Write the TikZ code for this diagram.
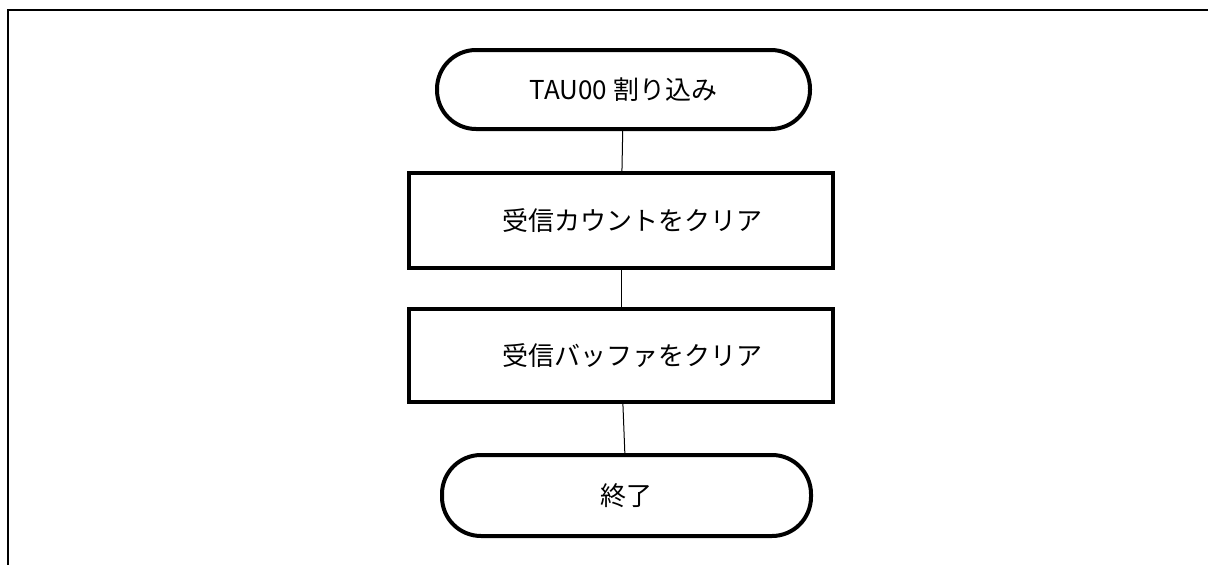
\documentclass[tikz,border=0pt]{standalone}
\usepackage{fontspec}
\setmainfont{Noto Sans CJK JP}
\begin{document}
\begin{tikzpicture}[x=1pt,y=-1pt]
        \tikzstyle{terminal}=[rectangle,rounded corners=39pt,line width=4pt,draw=black,font=\fontsize{26pt}{30pt}\selectfont,inner sep=0pt]
        \tikzstyle{process}=[rectangle,line width=4pt,draw=black,font=\fontsize{26pt}{30pt}\selectfont,inner sep=0pt]
        \tikzstyle{edge}=[draw, line width=1pt]
        \useasboundingbox (0,0) rectangle (1208,565);
        \draw[line width=2pt] (1208,10) -- (8,10) -- (8,565);
       \begin{scope}
         \node [terminal,minimum width=373pt,minimum height=79pt] (start) at (623.5,89.5) {TAU00 割り込み};
         \node [process,minimum width=424pt,minimum height=95pt] (clrcnt) at (621,220.5) {\hspace{22pt}受信カウントをクリア};
         \node [process,minimum width=424pt,minimum height=93pt] (clrbuf) at (621,355.5) {\hspace{22pt}受信バッファをクリア};
         \node [terminal,minimum width=369pt,minimum height=81pt] (finish) at (626.5,495.5) {終了};
         \path[edge] (start) -- (clrcnt);
         \path[edge] (clrcnt) -- (clrbuf);
         \path[edge] (clrbuf) -- (finish);
        \end{scope}
      \end{tikzpicture}
\end{document}
